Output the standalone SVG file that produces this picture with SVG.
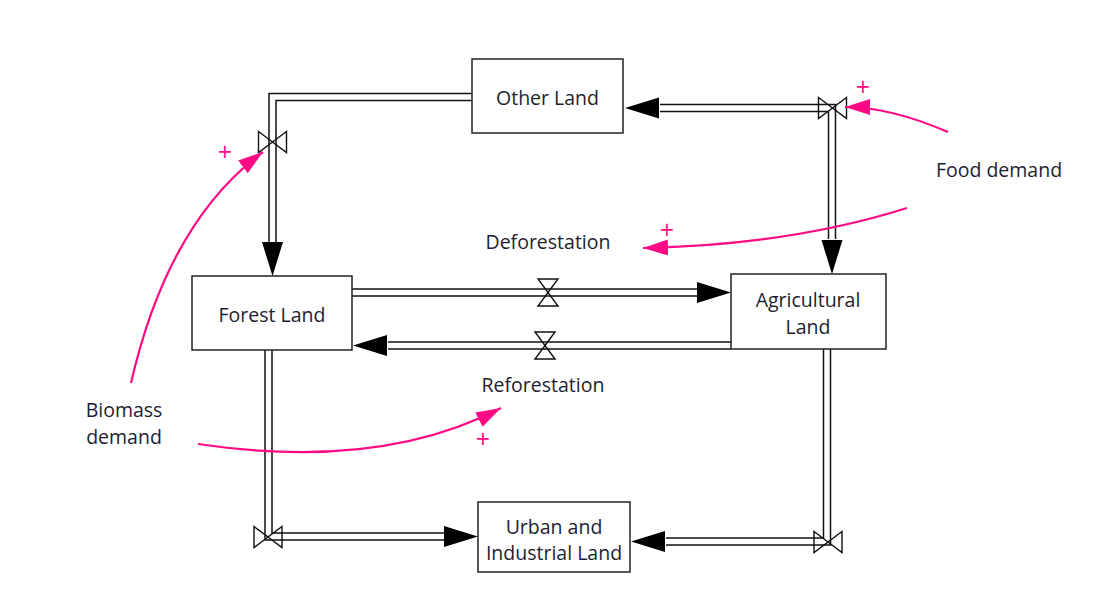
<svg xmlns="http://www.w3.org/2000/svg" xmlns:xlink="http://www.w3.org/1999/xlink" width="1112" height="604" viewBox="0 0 1112 604">
<style>
.box{fill:#fff;stroke:#222;stroke-width:1.5}
.lbl{font-family:"Open Sans","Noto Sans","Liberation Sans",sans-serif;font-size:19.5px;fill:#1e1e30;text-anchor:middle}
.po{fill:none;stroke:#111;stroke-width:8.5;stroke-linejoin:miter}
.pi{fill:none;stroke:#fff;stroke-width:5.5;stroke-linejoin:miter}
.valve{fill:none;stroke:#111;stroke-width:1.4;stroke-linejoin:miter}
.ah{fill:#000}
.lk{fill:none;stroke:#ff0a84;stroke-width:2.2}
.pl{font-family:"Open Sans","Noto Sans","Liberation Sans",sans-serif;font-size:25px;fill:#ff0a84;text-anchor:middle}
</style>
<defs>
<path id="ah" d="M0,0 L-34,-10.5 L-34,10.5 Z"/>
<path id="vh" d="M-14,-10.5 L0,0 L-14,10.5 Z M14,-10.5 L0,0 L14,10.5 Z"/>
<path id="vv" d="M-10,-13.5 L10,-13.5 L0,0 Z M-10,13.5 L10,13.5 L0,0 Z"/>
<marker id="pk" viewBox="0 0 25 16" refX="25" refY="8" markerWidth="25" markerHeight="16" markerUnits="userSpaceOnUse" orient="auto">
<path d="M0,0 L25,8 L0,16 Z" fill="#ff0a84"/>
</marker>
</defs>
<rect width="1112" height="604" fill="#fff"/>

<g id="connectors">
<path class="po" d="M472,97 H272.5 V242"/>
<path class="po" d="M660,108 H832 V239"/>
<path class="po" d="M352,292.5 H697"/>
<path class="po" d="M731,345.5 H388"/>
<path class="po" d="M268.5,350 V536.5 H445"/>
<path class="po" d="M827,349 V541.5 H666"/>
<path class="pi" d="M473,97 H272.5 V243"/>
<path class="pi" d="M659,108 H832 V240"/>
<path class="pi" d="M351,292.5 H698"/>
<path class="pi" d="M732,345.5 H387"/>
<path class="pi" d="M268.5,349 V536.5 H446"/>
<path class="pi" d="M827,348 V541.5 H665"/>
<use href="#ah" class="ah" transform="translate(272.5,276) rotate(90)"/>
<use href="#ah" class="ah" transform="translate(625,108) rotate(180)"/>
<use href="#ah" class="ah" transform="translate(832,274) rotate(90)"/>
<use href="#ah" class="ah" transform="translate(731,292.5)"/>
<use href="#ah" class="ah" transform="translate(353,345.5) rotate(180)"/>
<use href="#ah" class="ah" transform="translate(478,536.5)"/>
<use href="#ah" class="ah" transform="translate(631,541.5) rotate(180)"/>
<use href="#vh" class="valve" transform="translate(272.5,142)"/>
<use href="#vh" class="valve" transform="translate(832.5,108)"/>
<use href="#vv" class="valve" transform="translate(548,292.5)"/>
<use href="#vv" class="valve" transform="translate(545,345.5)"/>
<use href="#vh" class="valve" transform="translate(268,537)"/>
<use href="#vh" class="valve" transform="translate(828,542)"/>
<path class="lk" d="M131,383 Q168,222 263,152" marker-end="url(#pk)"/>
<path class="lk" d="M198,444 Q380,471 501,408" marker-end="url(#pk)"/>
<path class="lk" d="M948,132 Q890,107 845,107" marker-end="url(#pk)"/>
<path class="lk" d="M907,208 Q790,245 643,248" marker-end="url(#pk)"/>
<text class="pl" x="225" y="161">+</text>
<text class="pl" x="483" y="448">+</text>
<text class="pl" x="863" y="96">+</text>
<text class="pl" x="667" y="239">+</text>
</g>

<g id="other-land">
<rect class="box" x="472" y="59" width="151" height="74"/>
<text class="lbl" x="547.5" y="105">Other Land</text>
</g>
<g id="forest-land">
<rect class="box" x="192" y="276" width="160" height="74"/>
<text class="lbl" x="272" y="322">Forest Land</text>
</g>
<g id="agricultural-land">
<rect class="box" x="731" y="274" width="155" height="75"/>
<text class="lbl" x="808" y="307.3">Agricultural</text>
<text class="lbl" x="808" y="334">Land</text>
</g>
<g id="urban-industrial-land">
<rect class="box" x="478" y="502" width="152" height="70"/>
<text class="lbl" x="554" y="533.7">Urban and</text>
<text class="lbl" x="554" y="560.4">Industrial Land</text>
</g>
<g id="deforestation">
<text class="lbl" x="548" y="249">Deforestation</text>
</g>
<g id="reforestation">
<text class="lbl" x="543" y="392">Reforestation</text>
</g>
<g id="food-demand">
<text class="lbl" x="999" y="177">Food demand</text>
</g>
<g id="biomass-demand">
<text class="lbl" x="124" y="417.2">Biomass</text>
<text class="lbl" x="124" y="443.9">demand</text>
</g>
</svg>
